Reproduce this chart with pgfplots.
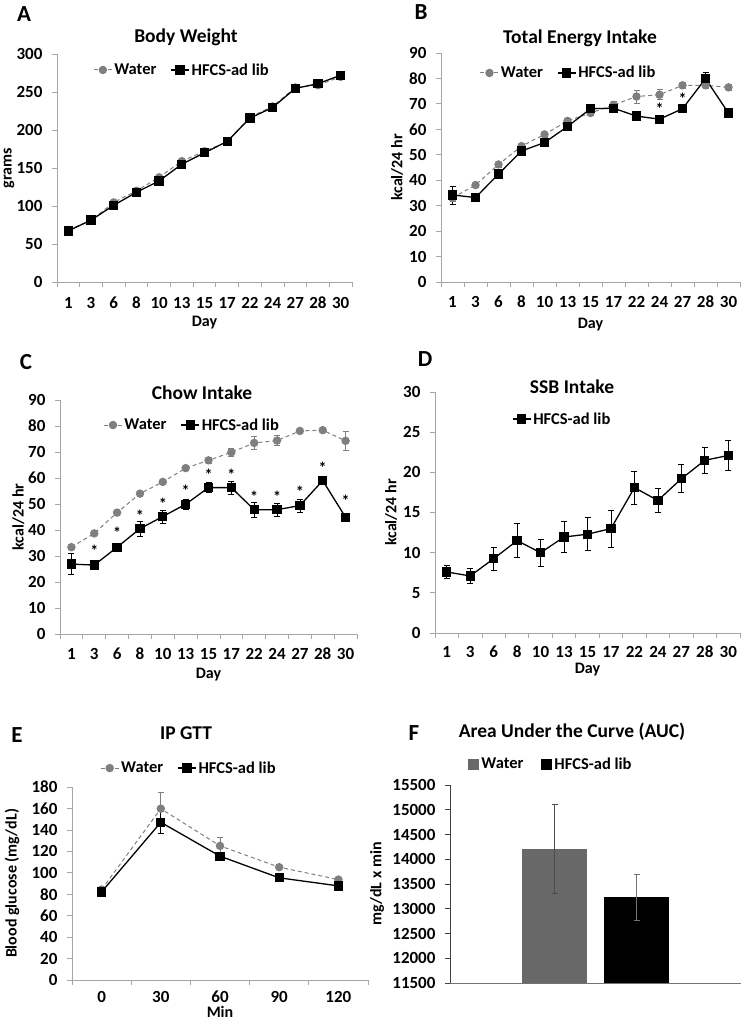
\documentclass[border=0pt]{standalone}
\usepackage{pgfplots}
\pgfplotsset{compat=1.18}
\usepackage{fontspec}
\setmainfont{Carlito}[Numbers=Lining]
\definecolor{axgray}{HTML}{A6A6A6}
\definecolor{water}{HTML}{7F7F7F}
\definecolor{waterbar}{HTML}{686868}
\newcommand{\tf}{\fontsize{17}{17}\selectfont\bfseries}
\newcommand{\labf}{\fontsize{16}{16}\selectfont\bfseries}
\newcommand{\ttl}{\fontsize{19.5}{19.5}\selectfont\bfseries}
\newcommand{\lf}{\fontsize{23}{23}\selectfont\bfseries}
\pgfplotsset{
 panel/.style={
  scale only axis, axis lines*=left,
  axis line style={draw=axgray, line width=0.8pt, -},
  tick style={draw=axgray, line width=0.8pt},
  tick align=outside, major tick length=5pt, minor tick length=5pt,
  /pgf/number format/assume math mode=true,
  tick label style={font=\tf, black},
  label style={font=\labf},
  ymin=0,
  yticklabel style={anchor=east, xshift=-6pt},
  legend style={draw=none, fill=none, font=\fontsize{16.5}{17}\selectfont\bfseries, legend columns=-1, anchor=center, /tikz/every even column/.append style={column sep=12pt}},
  legend image code/.code={\draw[mark repeat=2, mark phase=2, ##1] plot coordinates {(0pt,0pt) (9pt,0pt) (18pt,0pt)};},
 },
 cat13/.style={xmin=0.5, xmax=13.5, xtick={0.5,1.5,...,13.5}, xticklabels={},
   extra x ticks={1,...,13}, extra x tick labels={1,3,6,8,10,13,15,17,22,24,27,28,30},
   extra x tick style={major tick length=0pt, tick style={draw=none}, xticklabel style={anchor=base, yshift=-#1}}},
 cat5/.style={xmin=0.5, xmax=5.5, xtick={0.5,1.5,...,5.5}, xticklabels={},
   extra x ticks={1,...,5}, extra x tick labels={0,30,60,90,120},
   extra x tick style={major tick length=0pt, tick style={draw=none}, xticklabel style={anchor=base, yshift=-#1}}},
 ylab/.style={ylabel style={at={([xshift=-#1]axis description cs:0,0.5)}, anchor=center, rotate=0}},
 xlab/.style={xlabel style={at={([yshift=-#1]axis description cs:0.5,0)}, anchor=center}},
 eb/.style={error bars/.cd, y dir=both, y explicit, error bar style={line width=0.7pt, #1, solid}, error mark options={rotate=90, mark size=3pt, line width=0.7pt, #1, solid}},
 wline/.style={water, line width=1pt, dash pattern=on 4pt off 3pt, mark=*, mark size=3.7pt, mark options={solid, fill=water, draw=water}},
 hline/.style={black, line width=1.3pt, mark=square*, mark size=4pt, mark options={solid, fill=black}},
 star/.style={only marks, mark=text, text mark={\fontsize{16}{16}\selectfont\bfseries *}},
}
\begin{document}
\begin{tikzpicture}
\useasboundingbox (0,0) rectangle (743pt,-1020pt);

% ---------------- A
\node[font=\lf] at (24pt,-14pt) {A};
\node[font=\ttl] at (186pt,-37pt) {Body Weight};
\begin{axis}[panel, cat13=26pt, ylab=48pt, xlab=41pt,
  at={(57pt,-282pt)}, anchor=south west, width=295pt, height=228pt,
  ymax=300, ytick={0,50,...,300}, ylabel={grams}, xlabel={Day},
  legend style={at={(0.424,0.93)}}]
\addplot[wline] coordinates {(1,68.6) (2,81) (3,104.7) (4,120) (5,137.7) (6,159) (7,172) (8,184.5) (9,217) (10,231) (11,256) (12,259) (13,270)};
\addlegendentry{Water}
\addplot[hline] coordinates {(1,67.3) (2,81.4) (3,101) (4,118) (5,133) (6,155) (7,170) (8,185) (9,215.6) (10,229.6) (11,254.7) (12,261) (13,272)};
\addlegendentry{HFCS-ad lib}
\end{axis}

% ---------------- B
\node[font=\lf] at (421pt,-12pt) {B};
\node[font=\ttl] at (580pt,-38pt) {Total Energy Intake};
\begin{axis}[panel, cat13=25.5pt, ylab=44pt, xlab=43pt,
  at={(441pt,-282pt)}, anchor=south west, width=299pt, height=229pt,
  ymax=90, ytick={0,10,...,90}, ylabel={kcal/24 hr}, xlabel={Day},
  legend style={at={(0.427,0.913)}}]
\addplot[wline, eb=water] coordinates {(1,33.1) +- (0,1.5) (2,38.1) +- (0,0.8) (3,46.2) +- (0,1) (4,53.4) +- (0,1) (5,58) +- (0,1) (6,63.3) +- (0,1) (7,66.4) +- (0,1) (8,69.6) +- (0,1.5) (9,72.9) +- (0,2.5) (10,73.6) +- (0,2) (11,77.3) +- (0,1) (12,77.3) +- (0,1) (13,76.5) +- (0,1)};
\addlegendentry{Water}
\addplot[hline, eb=black] coordinates {(1,34.2) +- (0,3.5) (2,33.2) +- (0,1) (3,42.4) +- (0,1) (4,51.5) +- (0,1.5) (5,54.8) +- (0,1) (6,61.1) +- (0,1) (7,68.1) +- (0,1) (8,68.3) +- (0,1) (9,65.2) +- (0,1) (10,64.0) +- (0,1.5) (11,68.1) +- (0,1.5) (12,79.9) +- (0,2.5) (13,66.4) +- (0,1)};
\addlegendentry{HFCS-ad lib}
\addplot[star, forget plot] coordinates {(10,68.0) (11,72.0)};
\end{axis}

% ---------------- C
\node[font=\lf] at (26pt,-362pt) {C};
\node[font=\ttl] at (202pt,-393pt) {Chow Intake};
\begin{axis}[panel, cat13=25.5pt, ylab=41.5pt, xlab=41pt,
  at={(60pt,-634pt)}, anchor=south west, width=297pt, height=234pt,
  ymax=90, ytick={0,10,...,90}, ylabel={kcal/24 hr}, xlabel={Day},
  legend style={at={(0.445,0.893)}}]
\addplot[wline, eb=water] coordinates {(1,33.4) +- (0,1) (2,38.7) +- (0,0.8) (3,46.7) +- (0,1) (4,54.0) +- (0,1) (5,58.5) +- (0,1) (6,63.8) +- (0,1) (7,66.8) +- (0,1) (8,69.9) +- (0,1.5) (9,73.5) +- (0,2.5) (10,74.4) +- (0,2) (11,78.1) +- (0,1) (12,78.4) +- (0,1) (13,74.3) +- (0,3.8)};
\addlegendentry{Water}
\addplot[hline, eb=black] coordinates {(1,26.9) +- (0,4) (2,26.5) +- (0,1.2) (3,33.4) +- (0,1) (4,40.5) +- (0,3) (5,45.2) +- (0,2.5) (6,49.9) +- (0,2) (7,56.3) +- (0,2) (8,56.3) +- (0,2.5) (9,47.8) +- (0,3) (10,47.8) +- (0,2.5) (11,49.4) +- (0,2.5) (12,59.0) +- (0,1.5) (13,44.9) +- (0,1)};
\addlegendentry{HFCS-ad lib}
\addplot[star, forget plot] coordinates {(2,32.0) (3,38.8) (4,45.5) (5,50.0) (6,55.2) (7,61.2) (8,61.2) (9,52.9) (10,52.9) (11,54.7) (12,64.1) (13,51.4)};
\end{axis}

% ---------------- D
\node[font=\lf] at (425pt,-359pt) {D};
\node[font=\ttl] at (572pt,-387pt) {SSB Intake};
\begin{axis}[panel, cat13=24.5pt, ylab=44pt, xlab=37pt,
  at={(435pt,-633pt)}, anchor=south west, width=305pt, height=241pt,
  ymax=30, ytick={0,5,...,30}, ylabel={kcal/24 hr}, xlabel={Day},
  legend style={at={(0.417,0.888)}}]
\addplot[hline, eb=black] coordinates {(1,7.6) +- (0,0.8) (2,7.1) +- (0,0.9) (3,9.25) +- (0,1.4) (4,11.5) +- (0,2.1) (5,10.0) +- (0,1.7) (6,11.95) +- (0,1.9) (7,12.3) +- (0,2.05) (8,13.0) +- (0,2.3) (9,18.1) +- (0,2.05) (10,16.5) +- (0,1.5) (11,19.2) +- (0,1.75) (12,21.5) +- (0,1.65) (13,22.1) +- (0,1.9)};
\addlegendentry{HFCS-ad lib}
\end{axis}

% ---------------- E
\node[font=\lf] at (17pt,-735pt) {E};
\node[font=\ttl] at (186pt,-733pt) {IP GTT};
\begin{axis}[panel, cat5=22pt, ylab=60pt, xlab=32pt,
  at={(72pt,-980pt)}, anchor=south west, width=296pt, height=193pt,
  ymax=180, ytick={0,20,...,180}, ylabel={Blood glucose (mg/dL)}, xlabel={Min},
  legend style={at={(0.395,1.098)}}]
\addplot[wline, eb=water] coordinates {(1,84.4) +- (0,1) (2,159.8) +- (0,15) (3,125.1) +- (0,8.4) (4,105.2) +- (0,2) (5,93.7) +- (0,1)};
\addlegendentry{Water}
\addplot[hline, eb=black] coordinates {(1,82.2) +- (0,1) (2,147.1) +- (0,10) (3,115.5) +- (0,2) (4,95.3) +- (0,2) (5,87.8) +- (0,1)};
\addlegendentry{HFCS-ad lib}
\end{axis}

% ---------------- F
\node[font=\lf] at (414pt,-733pt) {F};
\node[font=\ttl] at (572pt,-732pt) {Area Under the Curve (AUC)};
\begin{axis}[panel, ylab=73pt,
  at={(450pt,-983pt)}, anchor=south west, width=291pt, height=198pt,
  ybar=17pt, bar width=65pt,
  xmin=0, xmax=2, xtick=\empty,
  ymin=11500, ymax=15500, ytick={11500,12000,...,15500},
  scaled y ticks=false,
  yticklabel style={/pgf/number format/1000 sep={}, /pgf/number format/fixed},
  y axis line style={draw=black!75},
  x axis line style={draw=black!55},
  ytick style={draw=black!75},
  ylabel={mg/dL x min},
  legend style={at={(0.347,1.106)}, /tikz/every even column/.append style={column sep=16pt}}]
\addplot[fill=waterbar, draw=none, legend image code/.code={\fill[waterbar] (0pt,-5.5pt) rectangle (11pt,5.5pt);},
  error bars/.cd, y dir=both, y explicit, error bar style={line width=0.7pt, black!70}, error mark options={rotate=90, mark size=3pt, line width=0.7pt, black!70}]
  coordinates {(1,14210) +- (0,890)};
\addlegendentry{Water}
\addplot[fill=black, draw=none, legend image code/.code={\fill[black] (0pt,-5.5pt) rectangle (11pt,5.5pt);},
  error bars/.cd, y dir=both, y explicit, error bar style={line width=0.7pt, black!55}, error mark options={rotate=90, mark size=3pt, line width=0.7pt, black!55}]
  coordinates {(1,13230) +- (0,460)};
\addlegendentry{HFCS-ad lib}
\end{axis}
\end{tikzpicture}
\end{document}
